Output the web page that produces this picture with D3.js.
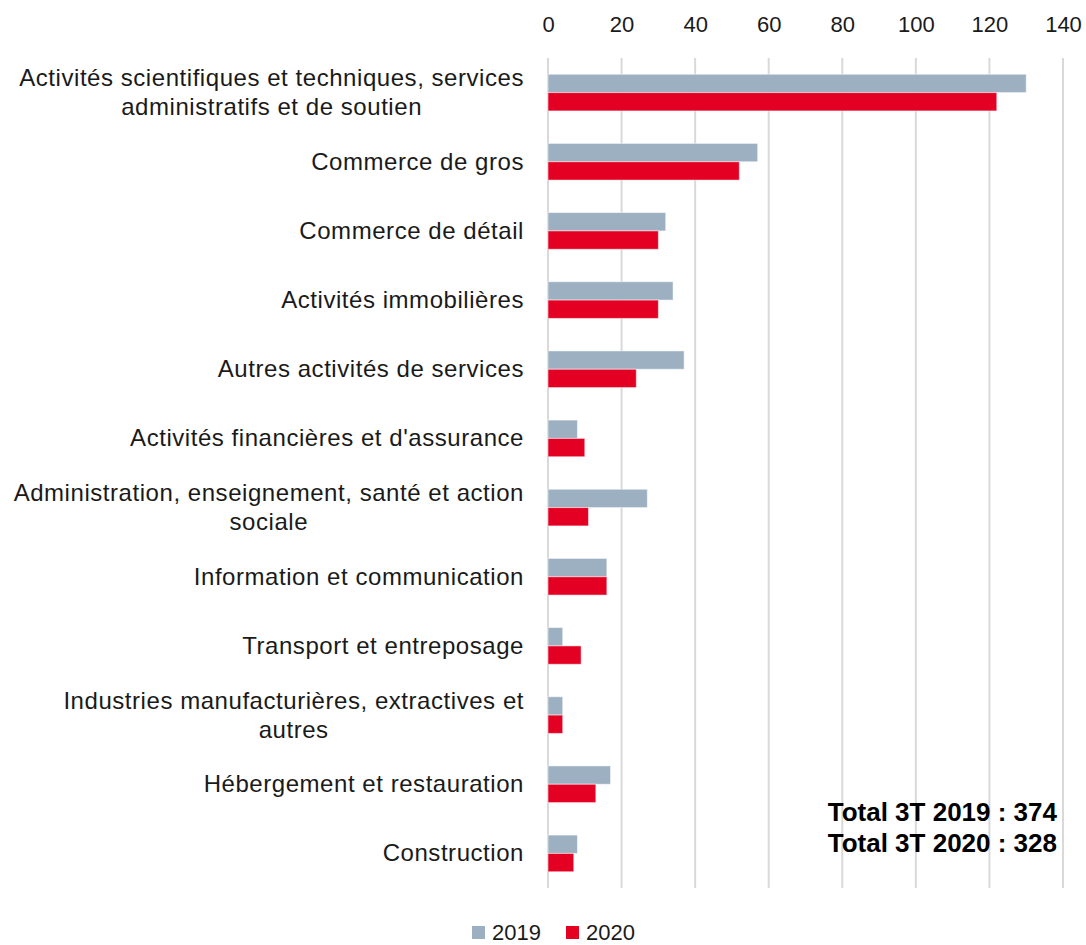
<!DOCTYPE html>
<html><head><meta charset="utf-8">
<script src="https://cdn.jsdelivr.net/npm/d3@7"></script>
<style>body{margin:0;background:#fff;} svg{display:block;font-family:"Liberation Sans",Arial,sans-serif;}</style>
</head><body>
<svg id="chart" width="1086" height="945"></svg>
<script>
const categories = [
  ["Activités scientifiques et techniques, services", "administratifs et de soutien"],
  ["Commerce de gros"],
  ["Commerce de détail"],
  ["Activités immobilières"],
  ["Autres activités de services"],
  ["Activités financières et d'assurance"],
  ["Administration, enseignement, santé et action", "sociale"],
  ["Information et communication"],
  ["Transport et entreposage"],
  ["Industries manufacturières, extractives et", "autres"],
  ["Hébergement et restauration"],
  ["Construction"]
];
const values2019 = [130, 57, 32, 34, 37, 8, 27, 16, 4, 4, 17, 8];
const values2020 = [122, 52, 30, 30, 24, 10, 11, 16, 9, 4, 13, 7];
const seriesNames = ["2019", "2020"];
const seriesColors = ["#9cb0c1", "#e30022"];
const tickValues = [0, 20, 40, 60, 80, 100, 120, 140];
const totals = ["Total 3T 2019 : 374", "Total 3T 2020 : 328"];

(function () {
const svg = d3.select("#chart");
const mLeft = 548, mRight = 1063, mTop = 58, mBottom = 888;
const ids = categories.map((c, i) => i);
const x = d3.scaleLinear().domain([0, 140]).range([mLeft, mRight]);
const y0 = d3.scaleBand().domain(ids).range([mTop, mBottom]).paddingInner(0.47).paddingOuter(0.235);
const y1 = d3.scaleBand().domain(seriesNames).range([0, y0.bandwidth()]);

// gridlines
svg.append("g").selectAll("line").data(tickValues).join("line")
  .attr("x1", d => x(d)).attr("x2", d => x(d))
  .attr("y1", mTop).attr("y2", mBottom)
  .attr("stroke", "#d9d9d9").attr("stroke-width", 2);

// top axis labels
const ax = svg.append("g").attr("transform", `translate(0,${mTop})`)
  .call(d3.axisTop(x).tickValues(tickValues).tickSize(0).tickPadding(26));
ax.select(".domain").remove();
ax.selectAll("text").attr("font-size", 22).attr("fill", "#1a1a1a")
  .attr("font-family", '"Liberation Sans",Arial,sans-serif');

// bars
const data = ids.map(i => ({i, vals: [values2019[i], values2020[i]]}));
const groups = svg.append("g").selectAll("g").data(data).join("g")
  .attr("transform", d => `translate(0,${y0(d.i)})`);
groups.selectAll("rect").data(d => d.vals.map((v, k) => ({v, k}))).join("rect")
  .attr("x", x(0))
  .attr("y", d => y1(seriesNames[d.k]))
  .attr("width", d => x(d.v) - x(0))
  .attr("height", y1.bandwidth())
  .attr("fill", d => seriesColors[d.k])
  .attr("stroke", "#ffffff").attr("stroke-opacity", 0.5).attr("stroke-width", 1);

// category labels
const labelRight = 524;
const lab = svg.append("g").attr("font-size", 24).attr("letter-spacing", 0.55).attr("fill", "#1a1a1a");
categories.forEach((lines, i) => {
  const cy = y0(i) + y0.bandwidth() / 2;
  const lh = 29;
  const tmp = lab.append("text");
  const widths = lines.map(ln => { tmp.text(ln); return tmp.node().getComputedTextLength(); });
  tmp.remove();
  const maxW = d3.max(widths);
  const cx = labelRight - maxW / 2;
  const yl = cy - (lines.length - 1) * lh / 2 + 8;
  const t = lab.append("text").attr("text-anchor", "middle");
  lines.forEach((ln, j) => {
    t.append("tspan").attr("x", cx).attr("y", yl + j * lh).text(ln);
  });
});

// totals
const tot = svg.append("g").attr("font-size", 26).attr("font-weight", "bold").attr("fill", "#000");
totals.forEach((s, j) => {
  tot.append("text").attr("x", 1057).attr("y", 821 + j * 31).attr("text-anchor", "end").text(s);
});

// legend
const leg = svg.append("g").attr("font-size", 22).attr("fill", "#1a1a1a");
const legX = [472, 566];
seriesNames.forEach((s, k) => {
  leg.append("rect").attr("x", legX[k]).attr("y", 926).attr("width", 13).attr("height", 13).attr("fill", seriesColors[k]);
  leg.append("text").attr("x", legX[k] + 20).attr("y", 940).text(s);
});
})();
</script>
</body></html>
